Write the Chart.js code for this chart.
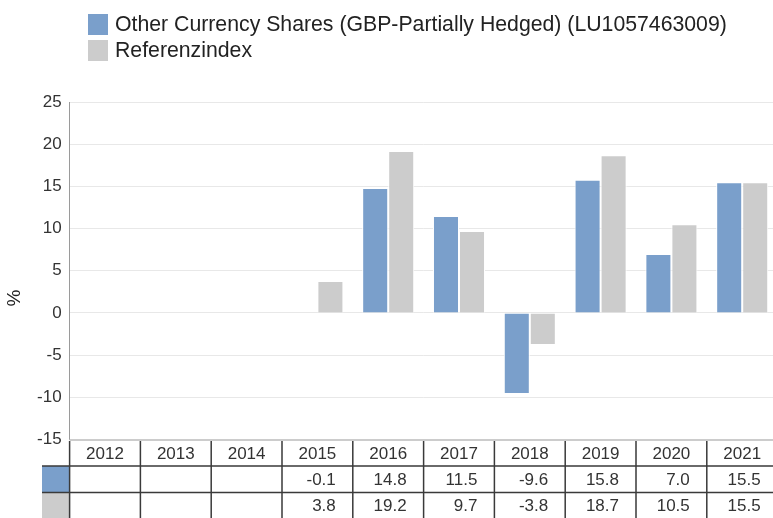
<!DOCTYPE html>
<html>
<head>
<meta charset="utf-8">
<script src="https://cdn.jsdelivr.net/npm/chart.js@4.4.1/dist/chart.umd.min.js"></script>
<style>
  html, body { margin: 0; padding: 0; background: #fff; }
  #wrap { position: relative; width: 773px; height: 518px; overflow: hidden; font-family: "Liberation Sans", Arial, sans-serif; }
  #chart { position: absolute; left: 0; top: 0; }
  .leg { position: absolute; left: 88px; height: 21px; display: flex; align-items: center; color: #222; font-size: 21.25px; white-space: nowrap; }
  .sw { width: 20px; height: 21px; margin-right: 7px; flex: none; }
</style>
</head>
<body>
<div id="wrap">
  <canvas id="chart" width="780" height="518"></canvas>
  <div class="leg" style="top:14px"><span class="sw" style="background:#7a9fcb"></span><span id="l1"></span></div>
  <div class="leg" style="top:40px"><span class="sw" style="background:#cccccc"></span><span id="l2"></span></div>
</div>
<script>
const categories = ["2012","2013","2014","2015","2016","2017","2018","2019","2020","2021"];
const fundValues = [null, null, null, -0.1, 14.8, 11.5, -9.6, 15.8, 7.0, 15.5];
const indexValues = [null, null, null, 3.8, 19.2, 9.7, -3.8, 18.7, 10.5, 15.5];
const fundLabels = ["", "", "", "-0.1", "14.8", "11.5", "-9.6", "15.8", "7.0", "15.5"];
const indexLabels = ["", "", "", "3.8", "19.2", "9.7", "-3.8", "18.7", "10.5", "15.5"];
const seriesNames = ["Other Currency Shares (GBP-Partially Hedged) (LU1057463009)", "Referenzindex"];
const yTicks = [-15, -10, -5, 0, 5, 10, 15, 20, 25];
const colors = ["#7a9fcb", "#cccccc"];

document.getElementById('l1').textContent = seriesNames[0];
document.getElementById('l2').textContent = seriesNames[1];

const FONT = '"Liberation Sans", Arial, sans-serif';

const tablePlugin = {
  id: 'tablePlugin',
  afterDraw(chart) {
    const ctx = chart.ctx;
    const ca = chart.chartArea;
    const x = chart.scales.x;
    const n = categories.length;
    const colW = (ca.right - ca.left) / n;
    const top = ca.bottom + 0.5;
    const r1 = 466, r2 = 492.5, bot = 518;
    ctx.save();
    ctx.strokeStyle = '#cccccc';
    ctx.lineWidth = 2;
    ctx.beginPath(); ctx.moveTo(ca.left, top); ctx.lineTo(ca.right + 5, top); ctx.stroke();
    ctx.fillStyle = colors[0];
    ctx.fillRect(42, r1, ca.left - 42, r2 - r1);
    ctx.fillStyle = colors[1];
    ctx.fillRect(42, r2, ca.left - 42, bot - r2);
    ctx.strokeStyle = '#3a3a3a';
    ctx.lineWidth = 1.5;
    ctx.beginPath();
    ctx.moveTo(42, r1); ctx.lineTo(ca.right + 5, r1);
    ctx.moveTo(42, r2); ctx.lineTo(ca.right + 5, r2);
    for (let i = 0; i <= n; i++) {
      const xx = ca.left + i * colW;
      ctx.moveTo(xx, top + 1); ctx.lineTo(xx, bot);
    }
    ctx.stroke();
    ctx.fillStyle = '#333333';
    ctx.font = '17px ' + FONT;
    ctx.textBaseline = 'middle';
    for (let i = 0; i < n; i++) {
      const cx = x.getPixelForValue(i);
      const right = ca.left + (i + 1) * colW - 17;
      ctx.textAlign = 'center';
      ctx.fillText(categories[i], cx, (top + r1) / 2 + 1);
      ctx.textAlign = 'right';
      if (fundLabels[i]) ctx.fillText(fundLabels[i], right, (r1 + r2) / 2 + 1);
      if (indexLabels[i]) ctx.fillText(indexLabels[i], right, (r2 + bot) / 2 + 1);
    }
    ctx.translate(15, 298);
    ctx.rotate(-Math.PI / 2);
    ctx.textAlign = 'center';
    ctx.font = '19px ' + FONT;
    ctx.fillStyle = '#222';
    ctx.fillText('%', 0, 0);
    ctx.restore();
  }
};

new Chart(document.getElementById('chart'), {
  type: 'bar',
  data: {
    labels: categories,
    datasets: [
      { label: seriesNames[0], data: fundValues, backgroundColor: colors[0], borderColor: '#ffffff', borderWidth: 1, categoryPercentage: 0.735, barPercentage: 1 },
      { label: seriesNames[1], data: indexValues, backgroundColor: colors[1], borderColor: '#ffffff', borderWidth: 1, categoryPercentage: 0.735, barPercentage: 1 }
    ]
  },
  options: {
    responsive: false,
    animation: false,
    layout: { padding: { top: 102, bottom: 78.5, left: 0, right: 2.4 } },
    plugins: { legend: { display: false }, tooltip: { enabled: false } },
    scales: {
      x: { display: false },
      y: {
        min: -15, max: 25,
        afterFit(s) { s.width = 69.6; },
        afterBuildTicks(s) { s.ticks = yTicks.map(v => ({ value: v })); },
        ticks: { color: '#333333', font: { family: FONT, size: 17 }, padding: 8 },
        grid: { color: '#e8e8e8', drawTicks: false },
        border: { display: true, color: '#9a9a9a', width: 1 }
      }
    }
  },
  plugins: [tablePlugin]
});
</script>
</body>
</html>
